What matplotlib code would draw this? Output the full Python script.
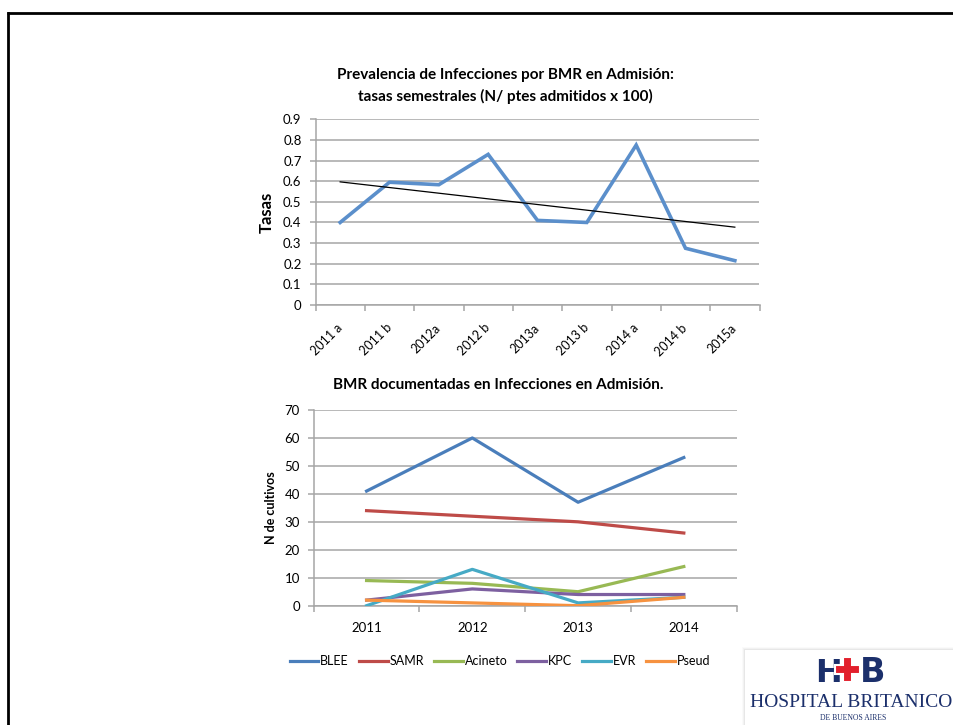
import numpy as np
import matplotlib
matplotlib.use('Agg')
import matplotlib.pyplot as plt
from matplotlib.lines import Line2D
from matplotlib.patches import Rectangle, Polygon

# ---------------- data ----------------
periods = ["2011 a", "2011 b", "2012a", "2012 b", "2013a", "2013 b", "2014 a", "2014 b", "2015a"]
tasas = [0.40, 0.595, 0.583, 0.73, 0.41, 0.40, 0.775, 0.275, 0.215]

years = ["2011", "2012", "2013", "2014"]
blee = [41, 60, 37, 53]
samr = [34, 32, 30, 26]
acineto = [9, 8, 5, 14]
kpc = [2, 6, 4, 4]
evr = [0, 13, 1, 3]
pseud = [2, 1, 0, 3]
series_names = ["BLEE", "SAMR", "Acineto", "KPC", "EVR", "Pseud"]
series_values = [blee, samr, acineto, kpc, evr, pseud]
series_colors = ["#4A7EBB", "#BE4B48", "#98B954", "#7D60A0", "#46AAC5", "#F69240"]

plt.rcParams['font.family'] = ['Lato', 'DejaVu Sans']

W, H = 954, 725
fig = plt.figure(figsize=(W / 100, H / 100), dpi=100)
fig.patch.set_facecolor('white')

GRID = '#A6A6A6'
TXT = '#000000'


def fx(px):
    return px / W


def fy(py):
    return 1 - py / H


def style(ax, labels, ymax, ystep, fmt):
    n = len(labels)
    ax.set_xlim(-0.5, n - 0.5)
    ax.set_ylim(0, ymax)
    yt = np.arange(0, ymax + ystep / 2, ystep)
    ax.set_yticks(yt)
    ax.set_yticklabels([fmt(v) for v in yt])
    ax.yaxis.grid(True, color=GRID, lw=1.1)
    ax.set_axisbelow(True)
    for s in ['top', 'right']:
        ax.spines[s].set_visible(False)
    for s in ['left', 'bottom']:
        ax.spines[s].set_color(GRID)
        ax.spines[s].set_linewidth(1.1)
    ax.set_xticks(np.arange(-0.5, n, 1))
    ax.set_xticklabels([])
    ax.set_xticks(np.arange(n), minor=True)
    ax.tick_params(axis='x', which='minor', length=0)
    ax.tick_params(axis='both', which='major', length=4, color=GRID, width=1.1,
                   labelsize=9.5, labelcolor=TXT)


# ---------------- top chart ----------------
ax1 = fig.add_axes([fx(315.5), fy(305), fx(759.5) - fx(315.5), fy(119.3) - fy(305)])
style(ax1, periods, 0.9, 0.1, lambda v: f"{round(v, 1):g}")
x1 = np.arange(len(periods))
ax1.plot(x1, tasas, color='#5B8FCB', lw=2.6, solid_joinstyle='miter', zorder=3)
coef = np.polyfit(x1, tasas, 1)
ax1.plot(x1, np.polyval(coef, x1), color='black', lw=0.9, zorder=4)
ax1.set_xticklabels(periods, minor=True, rotation=45, ha='right', va='center',
                    rotation_mode='anchor', fontsize=9)
ax1.tick_params(axis='x', which='minor', pad=15)
ax1.tick_params(axis='y', pad=6)
fig.text(fx(267), fy(212), "Tasas", rotation=90, ha='center', va='center',
         fontsize=12, fontweight='bold')
fig.text(fx(505), fy(75), "Prevalencia de Infecciones por BMR en Admisión:",
         ha='center', va='center', fontsize=11, fontweight='bold')
fig.text(fx(505), fy(96), "tasas semestrales (N/ ptes admitidos x 100)",
         ha='center', va='center', fontsize=11, fontweight='bold')

# ---------------- bottom chart ----------------
ax2 = fig.add_axes([fx(313.7), fy(605.7), fx(736.7) - fx(313.7), fy(410) - fy(605.7)])
style(ax2, years, 70, 10, lambda v: f"{int(v)}")
x2 = np.arange(len(years))
handles = []
for i, (name, vals, col) in enumerate(zip(series_names, series_values, series_colors)):
    h, = ax2.plot(x2, vals, color=col, lw=2.3, label=name, zorder=3 + i)
    handles.append(h)
ax2.set_xticklabels(years, minor=True, fontsize=9.5)
ax2.tick_params(axis='x', which='minor', pad=12)
ax2.tick_params(axis='y', pad=6)
fig.text(fx(271), fy(508), "N de cultivos", rotation=90, ha='center', va='center',
         fontsize=9, fontweight='bold')
fig.text(fx(498), fy(385), "BMR documentadas en Infecciones en Admisión.",
         ha='center', va='center', fontsize=11, fontweight='bold')
fig.legend(handles=handles, labels=series_names, loc='center', ncol=6,
           bbox_to_anchor=(fx(500), fy(661)), frameon=False, fontsize=9,
           handlelength=2.3, handletextpad=0.15, columnspacing=0.8)

# ---------------- slide border ----------------
fig.add_artist(Line2D([fx(7), 1.0], [fy(12.5), fy(12.5)], color='black', lw=2.0,
                      solid_capstyle='butt'))
fig.add_artist(Line2D([fx(8), fx(8)], [0, fy(12.5)], color='black', lw=2.0))

# ---------------- logo ----------------
lax = fig.add_axes([fx(742), 0, fx(954) - fx(742), fy(646)])
lax.set_xlim(742, 954)
lax.set_ylim(725, 646)
lax.axis('off')
for k, a in enumerate([0.04, 0.06, 0.09]):
    lax.add_patch(Rectangle((742 + k, 647 + k), 220, 90, color='#808080', alpha=a, lw=0))
lax.add_patch(Rectangle((745, 650), 220, 90, color='white', lw=0))
NAVY = '#1B2F6B'
RED = '#E2202C'
lax.text(829, 682, "H", ha='center', va='baseline', fontsize=23, fontweight='bold',
         color=NAVY, family='DejaVu Sans')
lax.text(873, 682, "B", ha='center', va='baseline', fontsize=24, fontweight='bold',
         color=NAVY, family='DejaVu Sans')
cx, cy, a, b = 848, 669.5, 12.5, 4.5
cross = [(cx - b, cy - a), (cx + b, cy - a), (cx + b, cy - b), (cx + a, cy - b), (cx + a, cy + b),
         (cx + b, cy + b), (cx + b, cy + a), (cx - b, cy + a), (cx - b, cy + b), (cx - a, cy + b),
         (cx - a, cy - b), (cx - b, cy - b)]
lax.add_patch(Polygon(cross, closed=True, facecolor=RED, edgecolor='white', lw=1.5, zorder=5))
lax.text(851.5, 707, "HOSPITAL BRITANICO", ha='center', va='baseline', fontsize=14,
         color=NAVY, family='Liberation Serif')
lax.text(853, 720, "DE BUENOS AIRES", ha='center', va='baseline', fontsize=5.5,
         color=NAVY, family='Liberation Serif')

fig.savefig('out.png', dpi=100, facecolor='white')
